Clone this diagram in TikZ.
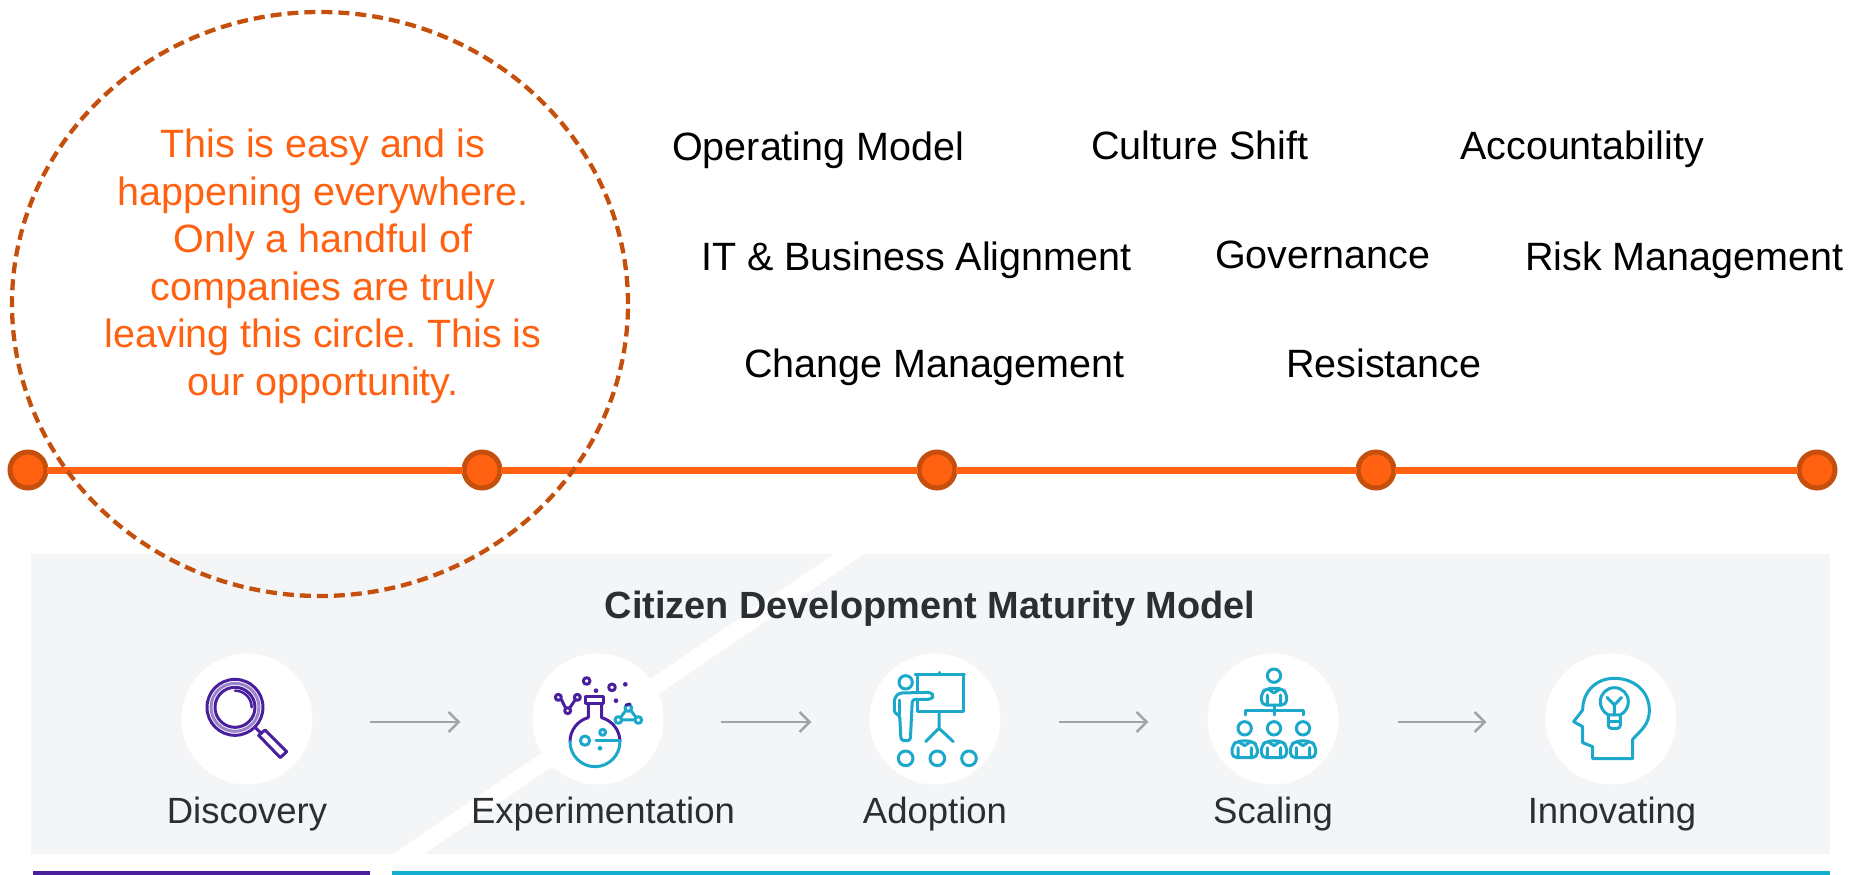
\documentclass[tikz,border=0pt]{standalone}
\usepackage{fontspec}
\setmainfont{Liberation Sans}
\usetikzlibrary{arrows.meta,shapes.geometric}
\definecolor{orangeline}{HTML}{FF6110}
\definecolor{dotedge}{HTML}{C5500E}
\definecolor{paneltint}{HTML}{F3F5F7}
\definecolor{inkdark}{HTML}{2B2F33}
\definecolor{arrowgrey}{HTML}{A0A4A6}
\definecolor{iconpurple}{HTML}{4A1F9E}
\definecolor{iconteal}{HTML}{1BA8CB}
\definecolor{barteal}{HTML}{13AECF}
\newcommand{\fsz}[1]{\fontsize{#1}{#1}\selectfont}
\newcommand{\iconbust}[2]{%
  \draw[teal icon,rounded corners=5pt] (#1-38,#2+88) -- (#1-38,#2+52) -- (#1-22,#2+38) -- (#1+22,#2+38) -- (#1+38,#2+52) -- (#1+38,#2+88) -- cycle;
  \draw[teal icon] (#1,#2) circle[radius=20];
  \draw[teal icon] (#1-20,#2+58) -- (#1-20,#2+88) (#1+20,#2+58) -- (#1+20,#2+88) (#1-18,#2+40) -- (#1,#2+52) -- (#1+18,#2+40);
}
\tikzset{
  toplabel/.style={anchor=base west,inner sep=0,font=\fsz{39.5},text=black},
  stagelabel/.style={anchor=base,inner sep=0,font=\fsz{36.5},text=inkdark},
  timedot/.style={circle,draw=dotedge,line width=5pt,fill=orangeline,minimum size=36pt,inner sep=0,outer sep=1pt},
  whitedisc/.style={circle,fill=white,minimum size=131pt,inner sep=0},
  stagearrow/.style={draw=arrowgrey,line width=2.6pt,-{Straight Barb[length=10pt,width=20pt,line width=2.4pt]}},
  teal icon/.style={draw=iconteal,line width=3pt,line cap=round,line join=round,fill=none},
  purple icon/.style={draw=iconpurple,line width=3pt,line cap=round,line join=round,fill=none},
}
\begin{document}
\frenchspacing
\begin{tikzpicture}[x=1pt,y=-1pt]
\useasboundingbox (0,0) rectangle (1864,875);
% panel
\path[fill=paneltint] (31,554) rectangle (1830,854);
\path[fill=white] (393,854) -- (424,854) -- (864,554) -- (834,554) -- cycle;
\path[fill=iconpurple] (33,871) rectangle (370,875);
\path[fill=barteal] (392,871) rectangle (1830,875);
% timeline
\node[timedot] (d1) at (28,470) {};
\node[timedot] (d2) at (482,470) {};
\node[timedot] (d3) at (937,470) {};
\node[timedot] (d4) at (1376,470) {};
\node[timedot] (d5) at (1817,470) {};
\draw[orangeline,line width=7pt] (d1) -- (d2);
\draw[orangeline,line width=7pt] (d2) -- (d3);
\draw[orangeline,line width=7pt] (d3) -- (d4);
\draw[orangeline,line width=7pt] (d4) -- (d5);
% circle
\node[ellipse,draw=dotedge,line width=4.3pt,dash pattern=on 11pt off 6pt,minimum width=616pt,minimum height=584pt,inner sep=0] (ring) at (320,304) {};
\node[align=center,inner sep=0,text=orangeline,font=\fontsize{39.5}{47.5}\selectfont] (note) at (323,266.5)
  {This is easy and is\\happening everywhere.\\Only a handful of\\companies are truly\\leaving this circle. This is\\our opportunity.};
% top labels
\node[toplabel] (l1) at (672,160) {Operating Model};
\node[toplabel] (l2) at (1091,159) {Culture Shift};
\node[toplabel] (l3) at (1460,159) {Accountability};
\node[toplabel] (l4) at (701,270) {IT \& Business Alignment};
\node[toplabel] (l5) at (1215,268) {Governance};
\node[toplabel] (l6) at (1525,270) {Risk Management};
\node[toplabel] (l7) at (744,377) {Change Management};
\node[toplabel] (l8) at (1286,377) {Resistance};
% maturity model
\node[anchor=base,inner sep=0,font=\fsz{37.9}\bfseries,text=inkdark] (title) at (930,618) {Citizen Development Maturity Model};
\node[whitedisc] (c1) at (247,719) {};
\node[whitedisc] (c2) at (598,719) {};
\node[whitedisc] (c3) at (935,719) {};
\node[whitedisc] (c4) at (1273,719) {};
\node[whitedisc] (c5) at (1611,719) {};
\node[stagelabel] (s1) at (247,823) {Discovery};
\node[stagelabel] (s2) at (603,823) {Experimentation};
\node[stagelabel] (s3) at (935,823) {Adoption};
\node[stagelabel] (s4) at (1273,823) {Scaling};
\node[stagelabel] (s5) at (1612,823) {Innovating};
\draw[stagearrow,shorten <=57pt,shorten >=72pt] ([yshift=-3pt]c1.east) -- ([yshift=-3pt]c2.west);
\draw[stagearrow,shorten <=57pt,shorten >=58pt] ([yshift=-3pt]c2.east) -- ([yshift=-3pt]c3.west);
\draw[stagearrow,shorten <=58pt,shorten >=59pt] ([yshift=-3pt]c3.east) -- ([yshift=-3pt]c4.west);
\draw[stagearrow,shorten <=59pt,shorten >=59pt] ([yshift=-3pt]c4.east) -- ([yshift=-3pt]c5.west);
% magnifier
\begin{scope}[shift={(170,650)},x=0.3333pt,y=-0.3333pt]
  \draw[purple icon,draw=iconpurple!55] (195,172) circle[radius=72];
  \draw[purple icon] (195,172) circle[radius=84];
  \draw[purple icon] (195,172) circle[radius=60];
  \draw[purple icon,line width=2.5pt] (195,122) arc[start angle=-90,end angle=0,radius=50];
  \draw[purple icon] (256,233) -- (274,250);
  \draw[purple icon,line join=round] (266,256) -- (285,240) -- (350,305) -- (331,323) -- cycle;
\end{scope}
% flask
\begin{scope}[shift={(520,650)},x=0.3333pt,y=-0.3333pt]
  \draw[purple icon] (150,275) arc[start angle=180,end angle=254.5,radius=75] -- (205,160) (245,160) -- (245,203) arc[start angle=285.5,end angle=360,radius=75];
  \draw[purple icon] (198,138) rectangle (250,160);
  \draw[teal icon] (150,275) arc[start angle=180,end angle=0,radius=75];
  \draw[teal icon] (228,272) -- (300,272);
  \draw[teal icon] (195,272) circle[radius=14];
  \draw[teal icon] (248,247) circle[radius=9];
  \path[fill=iconteal] (240,295) circle[radius=7];
  \draw[purple icon] (115,142) circle[radius=9] (172,142) circle[radius=9] (143,182) circle[radius=9];
  \draw[purple icon] (124,148) -- (137,174) (166,149) -- (149,174);
  \draw[purple icon] (200,93) circle[radius=10] (276,112) circle[radius=10];
  \path[fill=iconpurple] (228,122) circle[radius=7] (316,103) circle[radius=7] (288,152) circle[radius=7];
  \draw[teal icon] (325,174) circle[radius=10] (295,210) circle[radius=10] (355,210) circle[radius=10];
  \draw[teal icon] (317,182) -- (302,202) (333,182) -- (348,202) (305,210) -- (345,210);
  \draw[purple icon] (318,165) -- (330,162);
\end{scope}
% presenter
\begin{scope}[shift={(855,650)},x=0.3333pt,y=-0.3333pt]
  \draw[teal icon] (152,97) circle[radius=20];
  \draw[teal icon] (180,73) -- (328,73) (252,73) -- (252,67);
  \draw[teal icon] (187,73) -- (187,127) (187,150) -- (187,185) -- (325,185) -- (325,73);
  \draw[teal icon] (252,185) -- (252,235) -- (212,275) (252,235) -- (295,275);
  \draw[teal icon,rounded corners=3pt] (228,148) -- (172,148) -- (166,272) -- (138,272) -- (134,195) -- (118,190) -- (118,145) -- (132,129) -- (228,127) -- (236,138) -- cycle;
  \draw[teal icon] (134,150) -- (134,195);
  \draw[teal icon] (152,325) circle[radius=22] (247,325) circle[radius=22] (342,325) circle[radius=22];
\end{scope}
% hierarchy
\begin{scope}[shift={(1193,650)},x=0.3333pt,y=-0.3333pt]
  \iconbust{243}{77}
  \iconbust{155}{235}
  \iconbust{243}{235}
  \iconbust{330}{235}
  \draw[teal icon] (157,195) -- (157,180) -- (330,180) -- (330,195) (243,165) -- (243,195);
\end{scope}
% head
\begin{scope}[shift={(1531,650)},x=0.3333pt,y=-0.3333pt]
  \draw[teal icon] (185,290) -- (185,326) -- (305,326) -- (305,268) .. controls (330,240) and (355,225) .. (355,180) .. controls (355,125) and (310,85) .. (250,85) .. controls (195,85) and (155,125) .. (155,180) -- (128,215) -- (155,230) -- (155,278) -- (185,290);
  \draw[teal icon] (232,195) .. controls (215,185) and (208,170) .. (208,155) arc[start angle=180,end angle=360,radius=42] .. controls (292,170) and (285,185) .. (268,195) -- cycle;
  \draw[teal icon] (228,142) -- (250,165) -- (272,142) (250,165) -- (250,195);
  \draw[teal icon,rounded corners=3pt] (232,195) -- (232,235) -- (268,235) -- (268,195);
  \draw[teal icon] (232,215) -- (268,215);
\end{scope}
\end{tikzpicture}
\end{document}
